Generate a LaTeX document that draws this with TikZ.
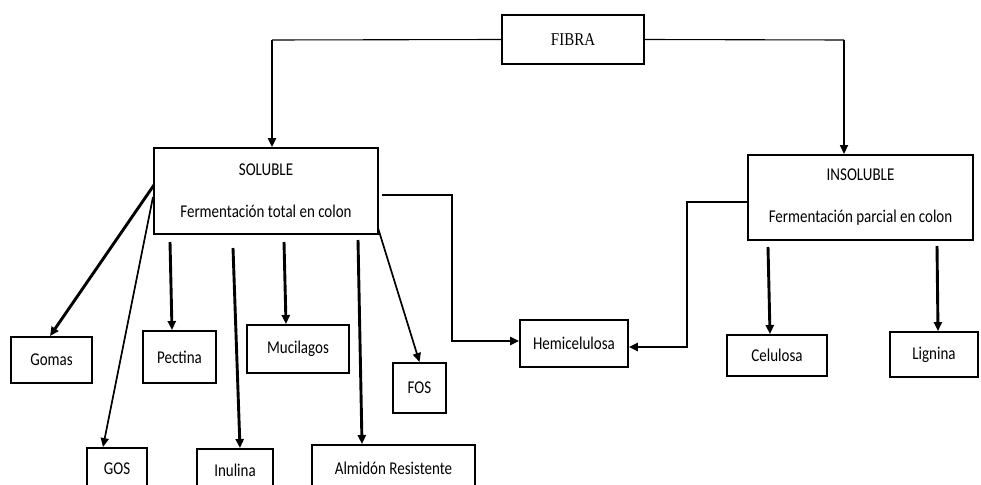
\documentclass[tikz,border=0pt]{standalone}
\usepackage{fontspec}
\setmainfont{Carlito}
\newfontfamily\serifx{Liberation Serif}
\usetikzlibrary{arrows.meta}
\newcommand{\tx}[1]{\scalebox{1}[1.2]{#1}}
\begin{document}
\begin{tikzpicture}[x=1pt,y=-1pt,
  box/.style={draw, line width=1.9pt, inner sep=0pt, font=\fontsize{15}{18}\selectfont, align=center},
  arr/.style={-{Triangle[length=9pt,width=8pt]}},
  thk/.style={line width=2.9pt},
  thn/.style={line width=1.1pt},
  med/.style={line width=1.7pt}]
\useasboundingbox (0,0) rectangle (981,484);
\clip (0,0) rectangle (981,484);

% boxes
\node[box, minimum width=142pt, minimum height=49pt, font=\serifx\fontsize{15}{18}\selectfont] (fibra) at (573,39.5) {\tx{FIBRA}};
\node[box, minimum width=224pt, minimum height=86pt] (sol) at (266,191) {\tx{SOLUBLE}\\[24pt]\tx{Fermentación total en colon}};
\node[box, minimum width=225pt, minimum height=85pt] (insol) at (860.5,197.5) {\tx{INSOLUBLE}\\[24pt]\tx{Fermentación parcial en colon}};
\node[box, minimum width=108pt, minimum height=47pt] (hemi) at (574,343.5) {\tx{Hemicelulosa}};
\node[box, minimum width=100pt, minimum height=41pt] (celu) at (777,355.5) {\tx{Celulosa}};
\node[box, minimum width=88pt, minimum height=45pt] (lign) at (934,354.5) {\tx{Lignina}};
\node[box, minimum width=81pt, minimum height=46pt] (gomas) at (51.5,360) {\tx{Gomas}};
\node[box, minimum width=73pt, minimum height=52pt] (pect) at (179.5,357) {\tx{Pectina}};
\node[box, minimum width=102pt, minimum height=48pt] (muci) at (298,349) {\tx{Mucilagos}};
\node[box, minimum width=53pt, minimum height=50pt] (fos) at (419.5,388) {\tx{FOS}};
\node[box, minimum width=60pt, minimum height=42pt] (gos) at (117,469) {\tx{GOS}};
\node[box, minimum width=76pt, minimum height=42pt] (inul) at (235,470) {\tx{Inulina}};
\node[box, minimum width=163pt, minimum height=46pt] (almi) at (393.5,468) {\tx{Almidón Resistente}};

% FIBRA -> SOLUBLE / INSOLUBLE
\coordinate (fl) at (272,40);
\coordinate (fr) at (844,40);
\draw[thn] (fibra.west) -- (fl);
\draw[thk, arr] (fl) -- (fl |- sol.north);
\draw[thn] (fibra.east) -- (fr);
\draw[med, arr] (fr) -- (fr |- insol.north);

% SOLUBLE -> Hemicelulosa
\coordinate (s0) at (382,195);
\coordinate (s1) at (452,195);
\coordinate (s2) at (452,341);
\draw[thk, arr] (s0) -- (s1) -- (s2) -- (s2 -| hemi.west);

% INSOLUBLE -> Hemicelulosa
\coordinate (i0) at (747,202);
\coordinate (i1) at (687,202);
\coordinate (i2) at (687,347);
\draw[thk, arr] (i0) -- (i1) -- (i2) -- (i2 -| hemi.east);

% INSOLUBLE -> Celulosa, Lignina
\coordinate (ic) at (768,247);
\coordinate (il) at (937,246);
\draw[thk, arr] (ic) -- ([xshift=-7pt]celu.north);
\draw[thk, arr] (il) -- ([xshift=4pt]lign.north);

% SOLUBLE -> children
\coordinate (sg) at (154,185);
\coordinate (sgo) at (153,197);
\coordinate (sp) at (170,242);
\coordinate (si) at (233,248);
\coordinate (sm) at (284,242);
\coordinate (sa) at (358,240);
\coordinate (sf) at (378,228);
\draw[thk, arr] (sg) -- ([xshift=-1.5pt]gomas.north);
\draw[med, arr] (sgo) -- ([xshift=-14pt]gos.north);
\draw[thk, arr] (sp) -- ([xshift=-7.5pt]pect.north);
\draw[thk, arr] (si) -- ([xshift=5pt]inul.north);
\draw[thk, arr] (sm) -- ([xshift=-12pt]muci.north);
\draw[thk, arr] (sa) -- ([xshift=-31.5pt]almi.north);
\draw[med, arr] (sf) -- (fos.north);
\end{tikzpicture}
\end{document}
